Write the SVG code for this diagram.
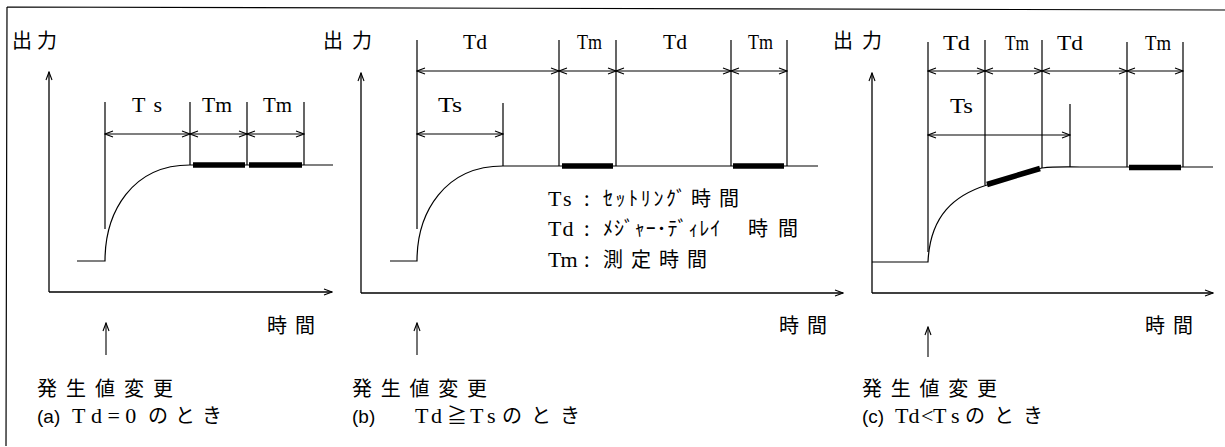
<svg xmlns="http://www.w3.org/2000/svg" width="1225" height="447" viewBox="0 0 1225 447">
<style>
.ln{stroke:#000;stroke-width:1.2;fill:none}
.dim{stroke:#000;stroke-width:1.1;fill:none;marker-start:url(#ah);marker-end:url(#ah)}
.up{stroke:#000;stroke-width:1.1;fill:none;marker-end:url(#ah)}
.axa{stroke:#000;stroke-width:1.3;fill:none;marker-end:url(#ah)}
.thick{stroke:#000;stroke-width:5.5;fill:none}
.lat{font-family:"Liberation Serif",serif;font-size:22px;fill:#000}
.cjk{font-family:"Noto Sans CJK JP",sans-serif;font-size:20px;fill:#000}
.sans{font-family:"Liberation Sans",sans-serif;font-size:19px}
.ser{font-family:"Liberation Serif",serif;font-size:22px}
</style>
<defs>
<marker id="ah" viewBox="0 0 10 8" refX="9" refY="4" markerWidth="10" markerHeight="8" markerUnits="userSpaceOnUse" orient="auto-start-reverse">
<path d="M1,1 L9,4 L1,7" fill="none" stroke="#000" stroke-width="1.1"/>
</marker>
</defs>

<g id="frame">
<path class="ln" d="M7,7 L1225,10 M7,7 L6,446"/>
</g>

<g id="panel-a">
<path class="axa" d="M49,292 V72"/>
<path class="axa" d="M49,292 H332"/>
<path class="ln" d="M77,261 H105 C105,212 132,165 190,165 H333"/>
<path class="ln" d="M105,102 V229 M190,102 V165 M247,102 V165 M304,102 V165"/>
<path class="thick" d="M193,165 H245 M249,165 H302"/>
<text class="cjk" x="12" y="48" textLength="45">出力</text>
<text class="lat" x="132" y="112" textLength="30">Ts</text>
<text class="lat" x="202" y="112" textLength="30" lengthAdjust="spacingAndGlyphs">Tm</text>
<text class="lat" x="263" y="112" textLength="29" lengthAdjust="spacingAndGlyphs">Tm</text>
<text class="cjk" x="267" y="333" textLength="48">時間</text>
<text class="cjk" x="37" y="396" textLength="136">発生値変更</text>
<text class="cjk" y="423"><tspan class="sans" x="37">(a)</tspan> <tspan class="ser" x="72" letter-spacing="5.5">Td=0</tspan> <tspan x="148" letter-spacing="7">のとき</tspan></text>
</g>

<g id="panel-b">
<path class="axa" d="M361,293 V73"/>
<path class="axa" d="M361,293 H843"/>
<path class="ln" d="M390,261 H417 C417,212 445,166 503,166 H818"/>
<path class="ln" d="M417,40 V229 M503,103 V166 M559,40 V166 M616,40 V166 M731,40 V166 M787,40 V166"/>
<path class="thick" d="M562,166 H613 M733,166 H784"/>
<text class="cjk" x="323" y="48" textLength="49">出力</text>
<text class="lat" x="463" y="49" textLength="24" lengthAdjust="spacingAndGlyphs">Td</text>
<text class="lat" x="577" y="49" textLength="25" lengthAdjust="spacingAndGlyphs">Tm</text>
<text class="lat" x="663" y="49" textLength="24" lengthAdjust="spacingAndGlyphs">Td</text>
<text class="lat" x="748" y="49" textLength="25" lengthAdjust="spacingAndGlyphs">Tm</text>
<text class="lat" x="438" y="112" textLength="24" lengthAdjust="spacingAndGlyphs">Ts</text>
<text class="cjk" x="779" y="333" textLength="48">時間</text>
<text class="cjk" x="352" y="396" textLength="135">発生値変更</text>
<text class="cjk" y="423"><tspan class="sans" x="352">(b)</tspan>  <tspan class="ser" x="415" letter-spacing="2.5">Td</tspan><tspan x="447">≧</tspan><tspan class="ser" x="470" letter-spacing="5">Ts</tspan><tspan x="502" letter-spacing="9">のとき</tspan></text>
</g>

<g id="legend">
<text class="cjk" y="206"><tspan class="ser" x="548" letter-spacing="3">Ts</tspan> <tspan x="584">:</tspan> <tspan x="603" letter-spacing="2.6">ｾｯﾄﾘﾝｸﾞ</tspan><tspan x="691" letter-spacing="8">時間</tspan></text>
<text class="cjk" y="236"><tspan class="ser" x="548" letter-spacing="1">Td</tspan> <tspan x="584">:</tspan> <tspan x="603" letter-spacing="0.9">ﾒｼﾞｬｰ･ﾃﾞｨﾚｲ</tspan> <tspan x="748" letter-spacing="10">時間</tspan></text>
<text class="cjk" y="267"><tspan class="ser" x="548" font-size="20" letter-spacing="-1">Tm</tspan> <tspan x="584">:</tspan> <tspan x="603" letter-spacing="8">測定時間</tspan></text>
</g>

<g id="panel-c">
<path class="axa" d="M872,293 V73"/>
<path class="axa" d="M872,293 H1213"/>
<path class="ln" d="M872,262 H928 C930,215 955,195 987,185 C1010,178 1030,170 1042,168 C1055,166.5 1065,167 1080,167 H1213"/>
<path class="ln" d="M928,42 V252 M985,40 V185 M1042,40 V168 M1070,104 V167 M1127,42 V167 M1183,42 V167"/>
<path class="thick" d="M987,184.5 L1040,168.5 M1129,167.5 H1181"/>
<text class="cjk" x="833" y="48" textLength="49">出力</text>
<text class="lat" x="943" y="50" textLength="27" lengthAdjust="spacingAndGlyphs">Td</text>
<text class="lat" x="1005" y="50" textLength="24" lengthAdjust="spacingAndGlyphs">Tm</text>
<text class="lat" x="1057" y="50" textLength="26" lengthAdjust="spacingAndGlyphs">Td</text>
<text class="lat" x="1145" y="50" textLength="26" lengthAdjust="spacingAndGlyphs">Tm</text>
<text class="lat" x="950" y="113" textLength="23" lengthAdjust="spacingAndGlyphs">Ts</text>
<text class="cjk" x="1145" y="333" textLength="48">時間</text>
<text class="cjk" x="862" y="396" textLength="135">発生値変更</text>
<text class="cjk" y="423"><tspan class="sans" x="862">(c)</tspan> <tspan class="ser" x="895">Td</tspan><tspan class="ser" x="921">&lt;</tspan><tspan class="ser" x="933" letter-spacing="6">Ts</tspan><tspan x="965" letter-spacing="9">のとき</tspan></text>
</g>

<g id="connectors">
<path class="dim" d="M105,134 H190"/>
<path class="dim" d="M190,134 H247"/>
<path class="dim" d="M247,134 H304"/>
<path class="dim" d="M417,71 H559"/>
<path class="dim" d="M559,71 H616"/>
<path class="dim" d="M616,71 H731"/>
<path class="dim" d="M731,71 H787"/>
<path class="dim" d="M417,134 H503"/>
<path class="dim" d="M928,71 H985"/>
<path class="dim" d="M985,71 H1042"/>
<path class="dim" d="M1042,71 H1127"/>
<path class="dim" d="M1127,71 H1183"/>
<path class="dim" d="M928,135 H1070"/>
<path class="up" d="M106,355 V323"/>
<path class="up" d="M417,355 V323"/>
<path class="up" d="M928,357 V327"/>
</g>
</svg>
